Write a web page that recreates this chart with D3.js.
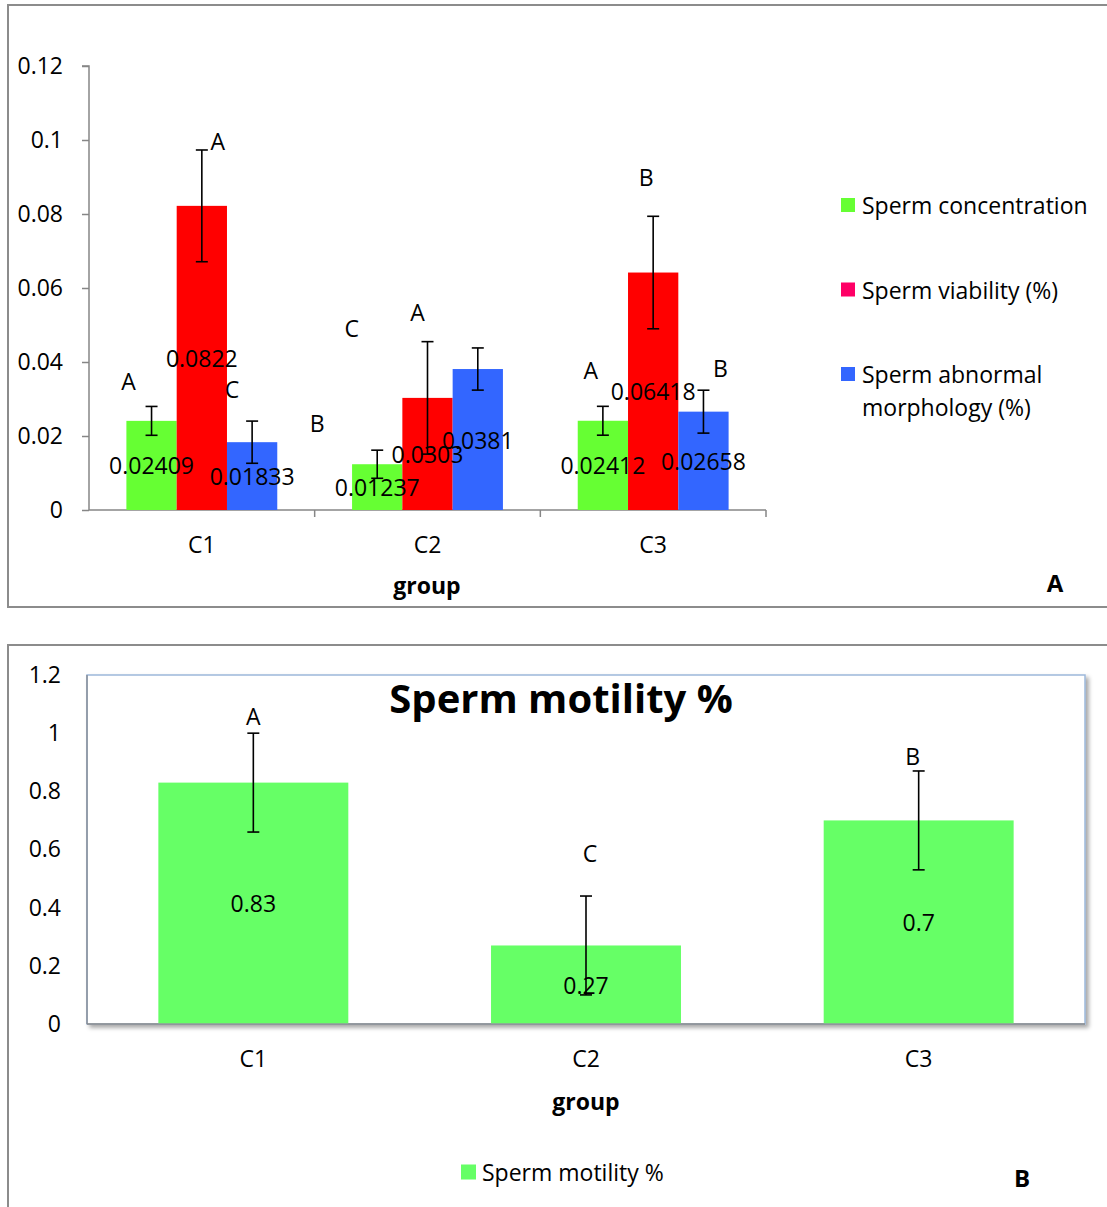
<!DOCTYPE html>
<html>
<head>
<meta charset="UTF-8">
<title>Sperm parameters</title>
<style>
  * { margin: 0; padding: 0; }
  body { background: #fff; font-family: "Open Sans", Lato, sans-serif; }
  svg text { font-family: "Open Sans", Lato, sans-serif; fill: #000; }
</style>
</head>
<body>
<svg id="chart" width="1107" height="1207"></svg>
<script src="https://d3js.org/d3.v7.min.js"></script>
<script>
// ---- Panel A data ----
const groups = ["C1", "C2", "C3"];
const seriesNames = ["Sperm concentration", "Sperm viability (%)", "Sperm abnormal morphology (%)"];
const concentration = [0.02409, 0.01237, 0.02412];
const viability = [0.0822, 0.0303, 0.06418];
const morphology = [0.01833, 0.0381, 0.02658];
const concentrationErr = [0.0039, 0.0038, 0.0039];
const viabilityErr = [0.0151, 0.0152, 0.0152];
const morphologyErr = [0.0057, 0.0057, 0.0058];
const concentrationLetters = ["A", "B", "A"];
const viabilityLetters = ["A", "A", "B"];
const morphologyLetters = ["C", "C", "B"];
// letter anchor heights (data units) and x shifts (px) as placed in the original
const concentrationLetterY = [0.0349, 0.0235, 0.0378];
const viabilityLetterY = [0.0997, 0.0535, 0.0900];
const morphologyLetterY = [0.0327, 0.0492, 0.0384];
const concentrationLetterDx = [-23, -60, -12];
const viabilityLetterDx = [16, -10, -7];
const morphologyLetterDx = [-20, -126, 17];
const yTicksA = [0, 0.02, 0.04, 0.06, 0.08, 0.1, 0.12];

// ---- Panel B data ----
const motility = [0.83, 0.27, 0.7];
const motilityErr = [0.17, 0.17, 0.17];
const motilityLetters = ["A", "C", "B"];
const motilityLetterY = [1.059, 0.588, 0.922];
const motilityLetterDx = [0, 4, -6];
const yTicksB = [0, 0.2, 0.4, 0.6, 0.8, 1, 1.2];

const barColors = ["#66ff33", "#ff0000", "#3366ff"];
const legendColors = ["#66ff33", "#ff0066", "#3366ff"];
const motilityColor = "#66ff66";
const FS = 23;

const svg = d3.select("#chart");

// outer frames
svg.append("rect").attr("x", 8).attr("y", 5).attr("width", 1120).attr("height", 602)
  .attr("fill", "none").attr("stroke", "#8c8c8c").attr("stroke-width", 2);
svg.append("rect").attr("x", 8).attr("y", 645).attr("width", 1120).attr("height", 600)
  .attr("fill", "none").attr("stroke", "#8c8c8c").attr("stroke-width", 2);

// ================= Panel A =================
const series = [
  { name: seriesNames[0], values: concentration, err: concentrationErr, letters: concentrationLetters, ly: concentrationLetterY, ldx: concentrationLetterDx },
  { name: seriesNames[1], values: viability, err: viabilityErr, letters: viabilityLetters, ly: viabilityLetterY, ldx: viabilityLetterDx },
  { name: seriesNames[2], values: morphology, err: morphologyErr, letters: morphologyLetters, ly: morphologyLetterY, ldx: morphologyLetterDx }
];

const xA = d3.scaleBand().domain(groups).range([89, 766]);
const xInner = d3.scaleBand().domain(d3.range(3)).range([37.4, xA.bandwidth() - 37.4]);
const yA = d3.scaleLinear().domain([0, 0.12]).range([510, 66]);

const gA = svg.append("g");

// y axis
const yAxisA = gA.append("g").attr("transform", "translate(89,0)")
  .call(d3.axisLeft(yA).tickValues(yTicksA).tickSize(7).tickPadding(19)
    .tickFormat(d => d === 0 ? "0" : String(+d.toFixed(2))));
yAxisA.selectAll("path, line").attr("stroke", "#868686").attr("stroke-width", 1.5);
yAxisA.select(".domain").attr("d", "M-7,66H0V510");
yAxisA.selectAll("text").attr("font-size", FS).attr("font-family", "Open Sans").attr("fill", "#000");

// x axis line and boundary ticks
gA.append("line").attr("x1", 89).attr("x2", 766).attr("y1", yA(0)).attr("y2", yA(0))
  .attr("stroke", "#868686").attr("stroke-width", 1.5);
gA.selectAll(".xtick").data(groups).join("line")
  .attr("x1", d => xA(d) + xA.bandwidth()).attr("x2", d => xA(d) + xA.bandwidth())
  .attr("y1", yA(0)).attr("y2", yA(0) + 7)
  .attr("stroke", "#868686").attr("stroke-width", 1.5);
gA.selectAll(".xlab").data(groups).join("text")
  .attr("x", d => xA(d) + xA.bandwidth() / 2).attr("y", 544)
  .attr("text-anchor", "middle").attr("dominant-baseline", "central")
  .attr("font-size", FS).text(d => d);
gA.append("text").attr("x", 427).attr("y", 585).attr("text-anchor", "middle")
  .attr("dominant-baseline", "central").attr("font-size", FS).attr("font-weight", "bold").text("group");

// bars
const flatA = [];
series.forEach((s, si) => groups.forEach((g, gi) => flatA.push({ si, g, gi, v: s.values[gi], e: s.err[gi], letter: s.letters[gi], ly: s.ly[gi], ldx: s.ldx[gi] })));
const cx = d => xA(d.g) + xInner(d.si) + xInner.bandwidth() / 2;

gA.selectAll(".bar").data(flatA).join("rect")
  .attr("x", d => xA(d.g) + xInner(d.si)).attr("width", xInner.bandwidth())
  .attr("y", d => yA(d.v)).attr("height", d => yA(0) - yA(d.v))
  .attr("fill", d => barColors[d.si]);

// value labels at bar centre
gA.selectAll(".val").data(flatA).join("text")
  .attr("x", cx).attr("y", d => yA(d.v / 2))
  .attr("text-anchor", "middle").attr("dominant-baseline", "central")
  .attr("font-size", FS).text(d => d.v);

// error bars
const errA = gA.selectAll(".err").data(flatA).join("g").attr("stroke", "#000").attr("stroke-width", 1.6);
errA.append("line").attr("x1", cx).attr("x2", cx).attr("y1", d => yA(d.v + d.e)).attr("y2", d => yA(d.v - d.e));
errA.append("line").attr("x1", d => cx(d) - 6).attr("x2", d => cx(d) + 6).attr("y1", d => yA(d.v + d.e)).attr("y2", d => yA(d.v + d.e));
errA.append("line").attr("x1", d => cx(d) - 6).attr("x2", d => cx(d) + 6).attr("y1", d => yA(d.v - d.e)).attr("y2", d => yA(d.v - d.e));

// significance letters
gA.selectAll(".let").data(flatA).join("text")
  .attr("x", d => cx(d) + d.ldx).attr("y", d => yA(d.ly))
  .attr("text-anchor", "middle").attr("dominant-baseline", "central")
  .attr("font-size", FS).text(d => d.letter);

// legend
const legA = gA.selectAll(".leg").data(seriesNames).join("g")
  .attr("transform", (d, i) => `translate(841,${205 + i * 84.5})`);
legA.append("rect").attr("x", 0).attr("y", -7).attr("width", 14).attr("height", 14)
  .attr("fill", (d, i) => legendColors[i]);
legA.append("text").attr("x", 21).attr("y", 0).attr("dominant-baseline", "central")
  .attr("font-size", FS)
  .each(function (d) {
    const t = d3.select(this);
    if (d === "Sperm abnormal morphology (%)") {
      t.append("tspan").attr("x", 21).attr("dy", 0).text("Sperm abnormal");
      t.append("tspan").attr("x", 21).attr("dy", 33).text("morphology (%)");
    } else {
      t.text(d);
    }
  });

gA.append("text").attr("x", 1055).attr("y", 582).attr("text-anchor", "middle")
  .attr("dominant-baseline", "central").attr("font-size", 24).attr("font-weight", "bold").text("A");

// ================= Panel B =================
const xB = d3.scaleBand().domain(groups).range([87, 1085]);
const barWB = xB.bandwidth() * 0.571;
const yB = d3.scaleLinear().domain([0, 1.2]).range([1024, 675]);
const gB = svg.append("g");

const defs = svg.append("defs");
const f = defs.append("filter").attr("id", "shadow").attr("x", "-5%").attr("y", "-5%").attr("width", "110%").attr("height", "115%");
f.append("feDropShadow").attr("dx", 3).attr("dy", 3).attr("stdDeviation", 2).attr("flood-color", "#000").attr("flood-opacity", 0.35);

gB.append("rect").attr("x", 87).attr("y", yB(1.2)).attr("width", 998).attr("height", yB(0) - yB(1.2))
  .attr("fill", "#fff").attr("stroke", "#9db8da").attr("stroke-width", 1.5).attr("filter", "url(#shadow)");
gB.append("line").attr("x1", 87).attr("x2", 87).attr("y1", yB(1.2)).attr("y2", yB(0))
  .attr("stroke", "#8a8f99").attr("stroke-width", 1.5);
gB.append("line").attr("x1", 87).attr("x2", 1085).attr("y1", yB(0)).attr("y2", yB(0))
  .attr("stroke", "#8a8a8a").attr("stroke-width", 1.5);

const yAxisB = gB.append("g").attr("transform", "translate(87,0)")
  .call(d3.axisLeft(yB).tickValues(yTicksB).tickSize(0).tickPadding(26)
    .tickFormat(d => String(+d.toFixed(1))));
yAxisB.select(".domain").remove();
yAxisB.selectAll("text").attr("font-size", FS).attr("font-family", "Open Sans").attr("fill", "#000");

gB.selectAll(".xlab").data(groups).join("text")
  .attr("x", d => xB(d) + xB.bandwidth() / 2).attr("y", 1058)
  .attr("text-anchor", "middle").attr("dominant-baseline", "central")
  .attr("font-size", FS).text(d => d);
gB.append("text").attr("x", 586).attr("y", 1101).attr("text-anchor", "middle")
  .attr("dominant-baseline", "central").attr("font-size", FS).attr("font-weight", "bold").text("group");

gB.append("text").attr("x", 561).attr("y", 697).attr("text-anchor", "middle")
  .attr("dominant-baseline", "central").attr("font-size", 40).attr("font-weight", "bold").text("Sperm motility %");

const flatB = groups.map((g, i) => ({ g, v: motility[i], e: motilityErr[i], letter: motilityLetters[i], ly: motilityLetterY[i], ldx: motilityLetterDx[i] }));
const cxB = d => xB(d.g) + xB.bandwidth() / 2;

gB.selectAll(".bar").data(flatB).join("rect")
  .attr("x", d => cxB(d) - barWB / 2).attr("width", barWB)
  .attr("y", d => yB(d.v)).attr("height", d => yB(0) - yB(d.v) - 0.75)
  .attr("fill", motilityColor);

gB.selectAll(".val").data(flatB).join("text")
  .attr("x", cxB).attr("y", d => yB(d.v / 2))
  .attr("text-anchor", "middle").attr("dominant-baseline", "central")
  .attr("font-size", FS).text(d => d.v);

const errB = gB.selectAll(".err").data(flatB).join("g").attr("stroke", "#000").attr("stroke-width", 1.6);
errB.append("line").attr("x1", cxB).attr("x2", cxB).attr("y1", d => yB(d.v + d.e)).attr("y2", d => yB(d.v - d.e));
errB.append("line").attr("x1", d => cxB(d) - 6).attr("x2", d => cxB(d) + 6).attr("y1", d => yB(d.v + d.e)).attr("y2", d => yB(d.v + d.e));
errB.append("line").attr("x1", d => cxB(d) - 6).attr("x2", d => cxB(d) + 6).attr("y1", d => yB(d.v - d.e)).attr("y2", d => yB(d.v - d.e));

gB.selectAll(".let").data(flatB).join("text")
  .attr("x", d => cxB(d) + d.ldx).attr("y", d => yB(d.ly))
  .attr("text-anchor", "middle").attr("dominant-baseline", "central")
  .attr("font-size", FS).text(d => d.letter);

// legend B
const legB = gB.append("g").attr("transform", "translate(461,1172)");
legB.append("rect").attr("x", 0).attr("y", -7.5).attr("width", 15).attr("height", 15).attr("fill", motilityColor);
legB.append("text").attr("x", 21).attr("y", 0).attr("dominant-baseline", "central")
  .attr("font-size", FS).text("Sperm motility %");

gB.append("text").attr("x", 1022).attr("y", 1177).attr("text-anchor", "middle")
  .attr("dominant-baseline", "central").attr("font-size", 24).attr("font-weight", "bold").text("B");
</script>
</body>
</html>
